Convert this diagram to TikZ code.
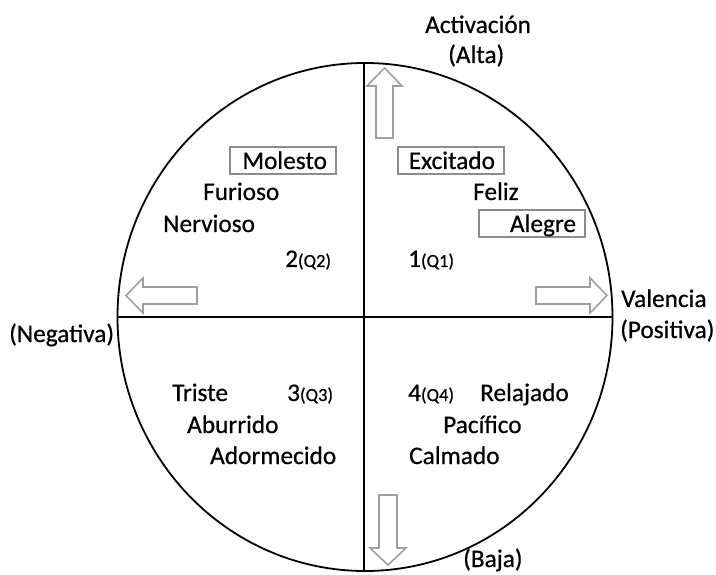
\documentclass[tikz,border=0pt]{standalone}
\usepackage{fontspec}
\setmainfont{Carlito}[UprightFeatures={FakeBold=0.6}]
\usetikzlibrary{positioning}

\newcommand{\quadnum}[2]{#1{\fontsize{18.5}{20}\selectfont(#2)}}

\begin{document}
\begin{tikzpicture}[
  x=1pt, y=-1pt, font=\fontsize{25.3}{32}\selectfont,
  axis/.style={line width=1.8pt, black},
  blockarrow/.style={draw=gray!75, line width=1.6pt, line join=miter},
  word/.style={inner sep=0pt, anchor=base west},
  tagbox/.style={draw=gray!90, line width=1.6pt, text width=88pt, align=right, inner xsep=9pt, inner ysep=0pt, text height=22pt, text depth=5pt},
]
  \useasboundingbox (0,0) rectangle (716,575);
  % circle and axes
  \coordinate (o) at (365,317);
  \draw[axis] (o) ellipse [x radius=247.5, y radius=254];
  \coordinate (west) at (117.5,317);
  \coordinate (east) at (612.5,317);
  \coordinate (north) at (364,63);
  \coordinate (south) at (364,571);
  \draw[axis] (west) -- (east);
  \draw[axis] (north) -- (south);
  % block arrows
  \draw[blockarrow] (376,138) -- (376,86) -- (367,86) -- (384.5,68) -- (402,86) -- (393,86) -- (393,138) -- cycle;
  \draw[blockarrow] (197,287) -- (143,287) -- (143,278) -- (126,295.5) -- (143,313) -- (143,304) -- (197,304) -- cycle;
  \draw[blockarrow] (536,287) -- (590,287) -- (590,278) -- (607,295.5) -- (590,313) -- (590,304) -- (536,304) -- cycle;
  \draw[blockarrow] (379,495) -- (379,548) -- (370,548) -- (388,565) -- (406,548) -- (397,548) -- (397,495) -- cycle;
  % axis labels
  \node[word] (act)  at (425,33)  {Activación};
  \node[word] (alta) at (448,63)  {(Alta)};
  \node[word] (val)  at (621,307) {Valencia};
  \node[word] (pos)  at (620,338) {(Positiva)};
  \node[word] (neg)  at (9,342)   {(Negativa)};
  \node[word] (baja) at (463,567) {(Baja)};
  % quadrant 2
  \node[tagbox] (molesto) at (283,160.5) {Molesto};
  \node[word] (furioso)  at (203,200) {Furioso};
  \node[word] (nervioso) at (163,232) {Nervioso};
  \node[word] (q2) at (285,267) {\quadnum{2}{Q2}};
  % quadrant 1
  \node[tagbox] (excitado) at (451,160.5) {Excitado};
  \node[word] (feliz) at (473,200) {Feliz};
  \node[tagbox] (alegre) at (532,223.5) {Alegre};
  \node[word] (q1) at (408,267) {\quadnum{1}{Q1}};
  % quadrant 3
  \node[word] (triste)     at (172,401) {Triste};
  \node[word] (q3)         at (287,401) {\quadnum{3}{Q3}};
  \node[word] (aburrido)   at (187,433) {Aburrido};
  \node[word] (adormecido) at (210,464) {Adormecido};
  % quadrant 4
  \node[word] (q4)       at (408,401) {\quadnum{4}{Q4}};
  \node[word] (relajado) at (480,401) {Relajado};
  \node[word] (pacifico) at (443,433) {Pacífico};
  \node[word] (calmado)  at (409,464) {Calmado};
\end{tikzpicture}
\end{document}
